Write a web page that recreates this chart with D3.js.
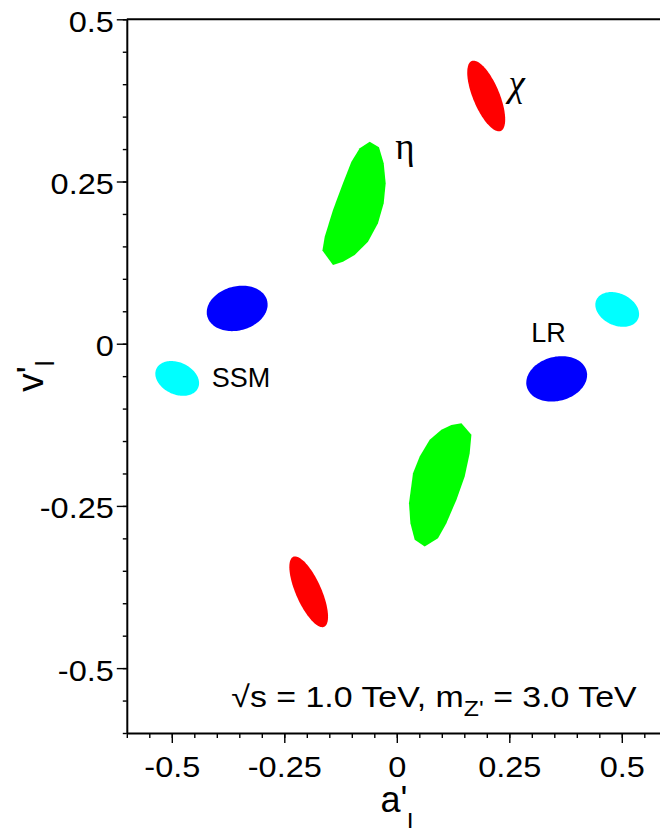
<!DOCTYPE html>
<html><head><meta charset="utf-8">
<script src="https://cdn.jsdelivr.net/npm/d3@7"></script>
<style>body{margin:0;background:#fff}svg{display:block}</style>
</head><body>
<svg id="c" width="660" height="828"></svg>
<script>
// ---------------- DATA ----------------
const xTickValues = [-0.5, -0.25, 0, 0.25, 0.5];
const xTickLabels = ["-0.5", "-0.25", "0", "0.25", "0.5"];
const yTickValues = [0.5, 0.25, 0, -0.25, -0.5];
const yTickLabels = ["0.5", "0.25", "0", "-0.25", "-0.5"];

// Ellipse-like allowed regions (centre, semi-axis vectors in data units a'_l, v'_l)
const ellipseModel = ["chi", "chi", "LR", "LR", "SSM", "SSM"];
const ellipseCx = [0.1987, -0.1958, -0.3547, 0.3553, -0.4880, 0.4898];
const ellipseCy = [0.3818, -0.3824, 0.0544, -0.0542, -0.0535, 0.0528];
const ellipseMajor = [[0.0322, -0.0539], [0.0344, -0.0539], [0.0664, 0.0123], [0.0664, 0.0123], [0.0462, -0.0149], [0.0462, -0.0149]];
const ellipseMinor = [[0.0272, 0.0078], [0.0258, 0.0080], [0.0127, -0.0328], [0.0127, -0.0328], [-0.0151, -0.0223], [-0.0151, -0.0223]];

// eta regions (contour vertices)
const etaUpperA = [-0.0602, -0.0396, -0.0291, -0.0247, -0.0291, -0.0418, -0.0640, -0.0936, -0.1196, -0.1418, -0.1653, -0.1602, -0.1418, -0.1196, -0.1009, -0.0824];
const etaUpperV = [0.3114, 0.3028, 0.2781, 0.2473, 0.2165, 0.1857, 0.1573, 0.1368, 0.1265, 0.1214, 0.1435, 0.1650, 0.2062, 0.2473, 0.2806, 0.3012];
const etaLowerA = [0.1436, 0.1658, 0.1620, 0.1509, 0.1324, 0.1102, 0.0916, 0.0620, 0.0398, 0.0302, 0.0271, 0.0360, 0.0509, 0.0731, 0.0991, 0.1213];
const etaLowerV = [-0.1225, -0.1405, -0.1687, -0.2048, -0.2407, -0.2766, -0.2997, -0.3126, -0.3023, -0.2766, -0.2458, -0.1995, -0.1740, -0.1482, -0.1328, -0.1251];

const modelColor = {chi: "#ff0000", eta: "#00ff00", LR: "#0000ff", SSM: "#00ffff"};

// Model labels
const labelTexts = ["\u03C7", "\u03B7", "LR", "SSM"];
const labelSerif = [true, true, false, false];
const labelA = [0.2480, -0.0035, 0.2987, -0.4113];
const labelV = [0.3820, 0.2840, 0.0023, -0.0661];

const annotationMain = "\u221As = 1.0 TeV, m";
const annotationSub = "Z'";
const annotationTail = " = 3.0 TeV";
const annotationA = 0.533;
const annotationV = -0.5592;

// ---------------- CHART ----------------
const svg = d3.select("#c");
const x = d3.scaleLinear().domain([-0.6, 0.6]).range([126.8, 666.8]);
const y = d3.scaleLinear().domain([-0.6, 0.5]).range([733, 19.3]);
const SANS = "'Liberation Sans', Arial, Helvetica, sans-serif";
const SERIF = "'Liberation Serif', 'Times New Roman', serif";

function stretch(sel, k) {
  sel.each(function () {
    const L = this.getComputedTextLength();
    this.setAttribute("textLength", L * k);
    this.setAttribute("lengthAdjust", "spacingAndGlyphs");
  });
}

// shapes
const shapes = svg.append("g");
const line = d3.line().curve(d3.curveLinearClosed);
ellipseCx.forEach((cx, i) => {
  const cy = ellipseCy[i], M = ellipseMajor[i], m = ellipseMinor[i];
  const pts = d3.range(120).map(k => {
    const t = k / 120 * 2 * Math.PI;
    return [x(cx + M[0] * Math.cos(t) + m[0] * Math.sin(t)),
            y(cy + M[1] * Math.cos(t) + m[1] * Math.sin(t))];
  });
  shapes.append("path").attr("d", line(pts)).attr("fill", modelColor[ellipseModel[i]]);
});
[[etaUpperA, etaUpperV], [etaLowerA, etaLowerV]].forEach(([A, V]) => {
  const pts = A.map((a, i) => [x(a), y(V[i])]);
  shapes.append("path").attr("d", line(pts)).attr("fill", modelColor.eta);
});

// axes
const xMinor = d3.range(-12, 13).map(k => +(k * 0.05).toFixed(2));
const yMinor = d3.range(-12, 11).map(k => +(k * 0.05).toFixed(2));

const gx0 = svg.append("g").attr("transform", `translate(0,${y(-0.6)})`)
  .call(d3.axisBottom(x).tickValues(xMinor).tickSize(5).tickSizeOuter(0).tickFormat(""));
const gx1 = svg.append("g").attr("transform", `translate(0,${y(-0.6)})`)
  .call(d3.axisBottom(x).tickValues(xTickValues).tickSize(10).tickSizeOuter(0).tickPadding(13)
    .tickFormat((d, i) => xTickLabels[i]));
const gy0 = svg.append("g").attr("transform", `translate(${x(-0.6)},0)`)
  .call(d3.axisLeft(y).tickValues(yMinor).tickSize(4).tickSizeOuter(0).tickFormat(""));
const gy1 = svg.append("g").attr("transform", `translate(${x(-0.6)},0)`)
  .call(d3.axisLeft(y).tickValues(yTickValues).tickSize(10).tickSizeOuter(0).tickPadding(3)
    .tickFormat((d, i) => yTickLabels[i]));

[gx0, gx1, gy0, gy1].forEach(g => {
  g.selectAll(".tick line").attr("stroke", "#000").attr("stroke-width", 1.4);
  g.select(".domain").attr("stroke", "#000").attr("stroke-width", 2);
});
gx1.select(".domain").remove();
gy1.select(".domain").remove();
[gx1, gy1].forEach(g => g.selectAll("text")
  .attr("font-family", SANS).attr("font-size", 29).attr("fill", "#000"));
gy1.selectAll("text").attr("dy", "0.41em");
gx1.selectAll("text").attr("dy", "0.71em");
stretch(gx1.selectAll("text"), 1.12);
stretch(gy1.selectAll("text"), 1.12);

// top border line at v'=0.5
svg.append("line").attr("x1", x(-0.6)).attr("x2", x(0.6)).attr("y1", y(0.5)).attr("y2", y(0.5))
  .attr("stroke", "#000").attr("stroke-width", 2);

// axis titles
const xt = svg.append("text").attr("x", x(0)).attr("y", 812).attr("text-anchor", "middle")
  .attr("font-family", SANS).attr("font-size", 36).attr("fill", "#000");
xt.append("tspan").text("a'");
xt.append("tspan").attr("font-size", 26).attr("dy", 20).text("l");

const yt = svg.append("text")
  .attr("transform", `translate(42.7,${(y(0.5) + y(-0.6)) / 2}) rotate(-90)`)
  .attr("text-anchor", "middle").attr("font-family", SANS).attr("font-size", 37).attr("fill", "#000");
yt.append("tspan").text("v'");
yt.append("tspan").attr("font-size", 26).attr("dy", 11).text("l");

// model labels
labelTexts.forEach((t, i) => {
  svg.append("text").attr("x", x(labelA[i])).attr("y", y(labelV[i]))
    .attr("font-family", labelSerif[i] ? SERIF : SANS)
    .attr("font-style", i === 0 ? "italic" : "normal")
    .attr("font-size", labelSerif[i] ? 37 : 27).attr("fill", "#000").text(t);
});

// annotation
const annG = svg.append("g").attr("transform", `translate(${x(annotationA)},${y(annotationV)}) scale(1.13,1)`);
const ann = annG.append("text").attr("x", 0).attr("y", 0).attr("text-anchor", "end")
  .attr("font-family", SANS).attr("font-size", 30).attr("fill", "#000");
ann.append("tspan").text(annotationMain);
ann.append("tspan").attr("font-size", 22).attr("dy", 9).text(annotationSub);
ann.append("tspan").attr("dy", -9).text(annotationTail);
</script>
</body></html>
